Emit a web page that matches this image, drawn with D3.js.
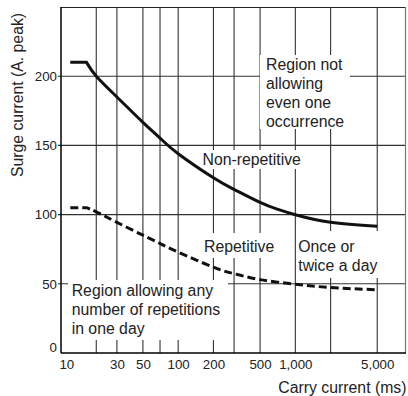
<!DOCTYPE html>
<html>
<head>
<meta charset="utf-8">
<script src="https://cdn.jsdelivr.net/npm/d3@7"></script>
<style>
  body { margin: 0; background: #fff; }
  text { font-family: "Liberation Sans", Arial, sans-serif; fill: #222; }
</style>
</head>
<body>
<svg class="chart" width="408" height="396"></svg>
<script>
// values
const xTickValues = [10, 30, 50, 100, 200, 500, 1000, 5000];
const xGridValues = [20, 30, 50, 70, 100, 200, 300, 500, 1000, 2000, 5000];
const yTickValues = [0, 50, 100, 150, 200];
const yGridValues = [50, 100, 150, 200];

const nonRepMs = [12, 16.5, 20, 30, 50, 70, 100, 200, 300, 500, 700, 1000, 2000, 5000];
const nonRepA  = [210, 210, 200, 185, 166.7, 155.3, 144, 126.6, 118.2, 108.8, 103.9, 99.9, 94.4, 91.6];

const repMs = [12, 16.5, 20, 30, 50, 70, 100, 200, 300, 500, 1000, 2000, 5000];
const repA  = [105, 105, 102, 94.4, 85.1, 79.1, 72.9, 62, 57.3, 53, 49.7, 47.3, 45.7];

const noteNotAllowing = ['Region not', 'allowing', 'even one', 'occurrence'];
const noteNonRep = ['Non-repetitive'];
const noteRep = ['Repetitive'];
const noteOnce = ['Once or', 'twice a day'];
const noteAllowing = ['Region allowing any', 'number of repetitions', 'in one day'];

let margin = {top: 7, right: 2, bottom: 43, left: 61},
  width = 408 - margin.left - margin.right,
  height = 396 - margin.top - margin.bottom;

let svg = d3.select('.chart')
  .append('g')
  .attr('transform', 'translate(' + margin.left + ',' + margin.top + ')');

let x = d3.scaleLog()
  .domain([10, 8800])
  .range([0, width]);

let y = d3.scaleLinear()
  .domain([0, 250])
  .range([height, 0]);

// grid
svg.selectAll('.vgrid')
  .data(xGridValues)
  .enter().append('line')
  .attr('class', 'vgrid')
  .attr('x1', (d) => x(d)).attr('x2', (d) => x(d))
  .attr('y1', 0).attr('y2', height)
  .attr('stroke', '#333')
  .attr('stroke-width', 1.1);

svg.selectAll('.hgrid')
  .data(yGridValues)
  .enter().append('line')
  .attr('class', 'hgrid')
  .attr('x1', -3).attr('x2', width)
  .attr('y1', (d) => y(d)).attr('y2', (d) => y(d))
  .attr('stroke', '#333')
  .attr('stroke-width', 1.1);

// top and right border
svg.append('line').attr('x1', 0).attr('x2', width).attr('y1', 0.5).attr('y2', 0.5)
  .attr('stroke', '#222').attr('stroke-width', 1.2);
svg.append('line').attr('x1', width - 0.5).attr('x2', width - 0.5).attr('y1', 0).attr('y2', height)
  .attr('stroke', '#777').attr('stroke-width', 1.2);

// annotations on white boxes
let note = function (lines, bx, by, bw, bh, tx, ty) {
  svg.append('rect')
    .attr('x', bx - margin.left).attr('y', by - margin.top)
    .attr('width', bw).attr('height', bh)
    .attr('fill', '#fff');
  svg.append('text')
    .attr('font-size', 15.8)
    .selectAll('tspan')
    .data(lines)
    .enter().append('tspan')
    .attr('x', tx - margin.left)
    .attr('y', (d, i) => ty - margin.top + i * 19.1)
    .text((d) => d);
};

note(noteNotAllowing, 260, 55, 90, 74, 266, 69.5);
note(noteNonRep, 200, 150, 104, 19, 202.5, 165);
note(noteRep, 200, 233, 78, 25, 204, 251.7);
note(noteOnce, 297, 231, 84, 47, 298.3, 251.7);
note(noteAllowing, 68, 280, 160, 60, 71.7, 296);

// curves: straight flat start, then a smooth fall
let line = d3.line()
  .x((d) => x(d[0]))
  .y((d) => y(d[1]))
  .curve(d3.curveNatural);

let curvePath = function (pts) {
  return 'M' + x(pts[0][0]) + ',' + y(pts[0][1]) + line(pts.slice(1)).replace(/^M/, 'L');
};

svg.append('path')
  .attr('d', curvePath(nonRepMs.map((d, i) => [d, nonRepA[i]])))
  .attr('fill', 'none')
  .attr('stroke', '#111')
  .attr('stroke-width', 3);

svg.append('path')
  .attr('d', curvePath(repMs.map((d, i) => [d, repA[i]])))
  .attr('fill', 'none')
  .attr('stroke', '#111')
  .attr('stroke-width', 3)
  .attr('stroke-dasharray', '8,4');

// axes
let yAxis = svg.append('g')
  .call(d3.axisLeft(y).tickValues(yTickValues).tickSize(0).tickPadding(4))
  .attr('font-size', 13.3)
  .attr('font-family', null);
yAxis.select('.domain').remove();
yAxis.selectAll('text').filter((d) => d === 0).attr('dy', '-0.1em');

let xAxis = svg.append('g')
  .attr('transform', 'translate(0,' + height + ')')
  .call(d3.axisBottom(x).tickValues(xTickValues).tickFormat(d3.format(',')).tickSize(0).tickPadding(7))
  .attr('font-size', 13.3)
  .attr('font-family', null);
xAxis.select('.domain').remove();
xAxis.selectAll('text').filter((d) => d === 10).attr('dx', '0.4em');

svg.append('line').attr('x1', 0).attr('x2', 0).attr('y1', 0).attr('y2', height)
  .attr('stroke', '#000').attr('stroke-width', 1.5);
svg.append('line').attr('x1', 0).attr('x2', width).attr('y1', height).attr('y2', height)
  .attr('stroke', '#000').attr('stroke-width', 1.5);

// axis titles
d3.select('.chart').append('text')
  .attr('transform', 'translate(23,95) rotate(-90)')
  .attr('text-anchor', 'middle')
  .attr('font-size', 15.8)
  .text('Surge current (A. peak)');

d3.select('.chart').append('text')
  .attr('x', 406.5)
  .attr('y', 392.5)
  .attr('text-anchor', 'end')
  .attr('font-size', 15.8)
  .text('Carry current (ms)');
</script>
</body>
</html>
